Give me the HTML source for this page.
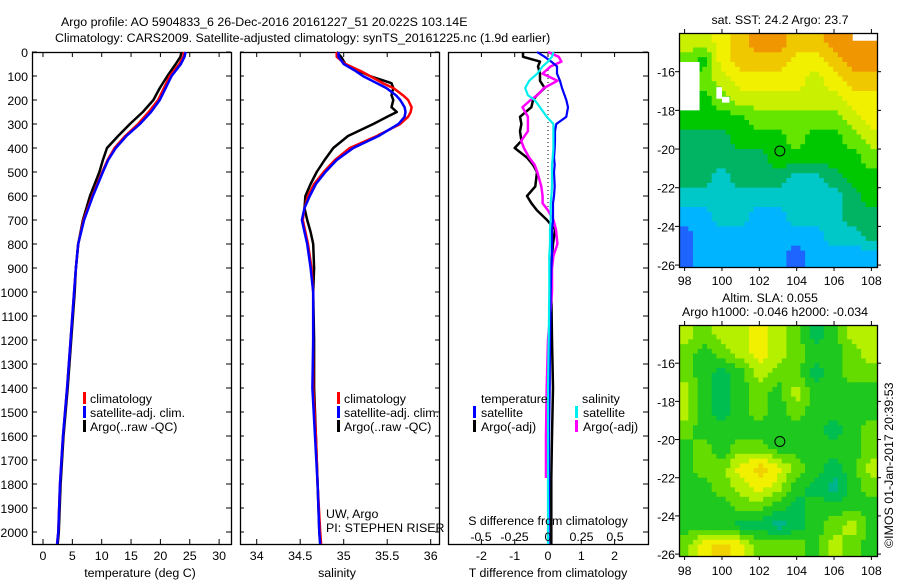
<!DOCTYPE html>
<html><head><meta charset="utf-8"><style>
html,body{margin:0;padding:0;background:#fff;}
svg text{font-family:"Liberation Sans",sans-serif;font-size:12.4px;fill:#000;}
</style></head><body>
<svg id="fig" width="900" height="580" viewBox="0 0 900 580" xmlns="http://www.w3.org/2000/svg">
<text x="61" y="26">Argo profile: AO 5904833_6 26-Dec-2016 20161227_51 20.022S 103.14E</text>
<text x="55" y="42">Climatology: CARS2009. Satellite-adjusted climatology: synTS_20161225.nc (1.9d earlier)</text>
<text x="780" y="24" text-anchor="middle">sat. SST: 24.2 Argo: 23.7</text>
<text x="770" y="302" text-anchor="middle">Altim. SLA: 0.055</text>
<text x="775" y="316" text-anchor="middle">Argo h1000: -0.046 h2000: -0.034</text>
<text transform="translate(893,548) rotate(-90)">©IMOS 01-Jan-2017 20:39:53</text>
</svg>
<script>
// ---- profile data ----
const depthT = [0,20,50,100,150,200,250,300,350,400,450,500,600,700,800,900,1000,1200,1400,1600,1800,2000,2050];
const tClim = [24.0,23.9,23.2,21.6,20.6,19.6,18.0,16.2,14.0,12.2,11.0,10.1,8.4,6.9,6.0,5.6,5.3,4.7,4.1,3.4,2.9,2.6,2.4];
const tSat = [24.3,24.1,23.5,21.9,20.9,19.9,18.4,16.5,14.2,12.4,11.1,10.2,8.5,7.0,6.0,5.6,5.3,4.7,4.1,3.4,2.9,2.6,2.4];
const tArgo = [23.6,23.4,22.6,21.2,19.9,18.8,17.0,14.8,12.8,10.9,10.2,9.6,8.0,6.8,6.0,5.6,5.4,4.8,4.2,3.5,3.0,2.7,2.5];
const depthS = [0,20,50,80,100,130,150,180,200,230,250,270,300,350,400,450,500,550,600,650,700,750,800,900,1000,1200,1400,1600,1800,2000,2050];
const sClim = [34.92,34.92,35.02,35.2,35.30,35.45,35.57,35.68,35.74,35.78,35.77,35.74,35.65,35.38,35.07,34.90,34.77,34.66,34.59,34.55,34.53,34.56,34.59,34.63,34.65,34.65,34.65,34.68,34.70,34.73,34.74];
const sSat = [34.94,34.94,35.00,35.14,35.22,35.38,35.49,35.60,35.65,35.70,35.71,35.70,35.63,35.40,35.11,34.92,34.79,34.68,34.61,34.55,34.52,34.55,34.58,34.62,34.65,34.65,34.64,34.67,34.70,34.72,34.73];
const sArgo = [34.92,34.97,35.02,35.18,35.30,35.55,35.57,35.55,35.57,35.55,35.61,35.50,35.34,35.05,34.88,34.78,34.69,34.62,34.56,34.55,34.58,34.62,34.65,34.66,34.65,34.66,34.66,34.68,34.70,34.72,34.73];
const depthD = [0,20,40,60,90,120,150,180,200,230,270,300,330,370,400,440,470,500,560,600,630,660,700,740,800,850,900,1000,1200,1400,1600,1775,2000,2050];
const dTArgo = [-0.75,-0.75,-0.24,-0.3,-0.24,-0.24,-0.1,-0.33,-0.45,-0.5,-0.84,-0.8,-0.84,-0.8,-1.0,-0.63,-0.45,-0.33,-0.38,-0.63,-0.5,-0.33,-0.03,0.21,0.15,0.12,0.1,0.1,0.12,0.15,0.12,0.1,0.1,0.1];
const dTSat = [-0.33,-0.1,0.1,0.27,0.27,0.36,0.42,0.5,0.55,0.6,0.55,0.25,0.21,0.21,0.2,0.18,0.2,0.18,0.2,0.18,0.15,0.15,0.15,0.12,0.12,0.12,0.1,0.08,0.06,0.05,0.03,0.03,0.02,0.02];
const dSSat = [0.04,0.03,0.0,-0.04,-0.08,-0.14,-0.17,-0.15,-0.1,-0.06,-0.01,0.04,0.04,0.04,0.04,0.035,0.03,0.03,0.03,0.025,0.02,0.02,0.02,0.015,0.015,0.01,0.01,0.01,0.005,0.0,0.0,0.0,0.0,0.0];
const dSArgo = [0.0,0.08,0.1,0.02,-0.04,0.07,-0.03,-0.08,-0.13,-0.19,-0.15,-0.15,-0.15,-0.2,-0.18,-0.14,-0.1,-0.08,-0.05,-0.04,-0.04,0.0,0.04,0.06,0.07,0.04,0.03,0.03,0.0,-0.01,-0.015,-0.015,null,null];
const depthTicks = [0,100,200,300,400,500,600,700,800,900,1000,1100,1200,1300,1400,1500,1600,1700,1800,1900,2000];
const tempTicks = [0,5,10,15,20,25,30];
const salTicks = [34,34.5,35,35.5,36];
const dTTicks = [-2,-1,0,1,2];
const dSTicks = [-0.5,-0.25,0,0.25,0.5];
// ---- map data (cell centres lat -14.5..-25.5, lon 98..108) ----
const mapLats = [-14.5,-15.5,-16.5,-17.5,-18.5,-19.5,-20.5,-21.5,-22.5,-23.5,-24.5,-25.5];
const mapLons = [98,99,100,101,102,103,104,105,106,107,108];
const sstGrid = [
[7,7,8,9,10,10,9,9,10,10,10],
[6,5,8,9,9,9,8,8,9,10,10],
[5,6,7,8,8,8,8,7,8,9,9],
[5,5,6,7,7,7,7,7,7,8,8],
[5,5,5,5,6,6,6,6,6,7,8],
[4,4,4,5,5,5,6,5,5,6,7],
[4,4,4,4,4,5,5,5,5,5,6],
[4,4,3,4,4,4,3,3,4,5,5],
[3,3,3,3,3,3,3,3,3,4,5],
[2,2,3,3,2,2,3,3,3,4,4],
[1,2,2,2,2,2,2,2,3,3,4],
[1,2,2,2,2,2,1,2,2,2,2]];
const sstMissing = [[97.7,98.8,-15.5,-18.0],[99.7,100.0,-16.8,-17.4],[107.0,108.3,-14.0,-14.4],[100.0,100.4,-17.3,-17.6]];
const slaGrid = [
[4,3,4,4,5,4,3,1,2,4,4],
[3,2,3,4,5,4,3,2,2,3,4],
[3,2,1,2,4,3,3,1,2,3,3],
[4,2,1,2,3,2,4,2,2,2,2],
[4,2,1,2,3,2,3,2,2,2,2],
[3,2,2,2,2,2,2,2,1,2,3],
[2,3,2,3,3,2,2,2,2,2,3],
[2,3,3,5,6,5,3,2,1,2,4],
[2,2,3,4,5,4,2,1,0,2,3],
[2,2,2,3,3,2,1,2,2,2,2],
[2,2,2,1,1,0,1,2,3,4,2],
[3,5,6,5,3,3,3,2,4,3,2]];
const argoLon = 103.1, argoLat = -20.1;
const latTicks = [-16,-18,-20,-22,-24,-26];
const lonTicks = [98,100,102,104,106,108];

const svg = document.getElementById('fig');
const NS = 'http://www.w3.org/2000/svg';
function mk(tag, attrs, parent){const e=document.createElementNS(NS,tag);for(const k in attrs)e.setAttribute(k,attrs[k]);(parent||svg).appendChild(e);return e;}
function txt(x,y,s,anchor,parent){const t=mk('text',{x:x,y:y,'text-anchor':anchor||'start'},parent);t.textContent=s;return t;}

const Y0=52, YS=0.24, YB=544;
const yD = d => Y0 + d*YS;
const xT = v => 43 + v*5.87;
const xS = v => 256.7 + (v-34)*87;
const xDT = v => 548 + v*33.3;
const xDS = v => 548 + v*134;

function frame(x0,x1,y0,y1,name){
  const r=mk('rect',{x:x0+0.5,y:y0+0.5,width:x1-x0,height:y1-y0,fill:'none',stroke:'#000','stroke-width':1.3});
  
  
}
function line(vals,depths,xf,color,w,name){
  let pts=[];
  for(let i=0;i<vals.length;i++){ if(vals[i]===null) continue; pts.push(xf(vals[i]).toFixed(1)+','+yD(depths[i]).toFixed(1)); }
  const p=mk('polyline',{points:pts.join(' '),fill:'none',stroke:color,'stroke-width':w,'stroke-linejoin':'round'});
  
  
}
function xticks(ticks,xf,yTop,yBot,labY,fmt){
  ticks.forEach(v=>{const x=xf(v);mk('line',{x1:x,x2:x,y1:yBot,y2:yBot-5,stroke:'#000'});mk('line',{x1:x,x2:x,y1:yTop,y2:yTop+5,stroke:'#000'});
    if(labY){const t=txt(x,labY,fmt?fmt(v):String(v),'middle');
      }});
}
function legendBar(x,y,color){mk('rect',{x:x,y:y-11,width:3,height:12,fill:color});}

// Panel 1 temperature
frame(32,231,Y0,YB,'temperature-panel');
depthTicks.forEach(d=>{const y=yD(d);mk('line',{x1:32,x2:37,y1:y,y2:y,stroke:'#000'});mk('line',{x1:226,x2:231,y1:y,y2:y,stroke:'#000'});
  const t=txt(28,y+5,String(d),'end');
  });
xticks(tempTicks,xT,Y0,YB,560);
line(tArgo,depthT,xT,'#000',2.5,'temp-argo-line');
line(tClim,depthT,xT,'#f00',2.5,'temp-climatology-line');
line(tSat,depthT,xT,'#00f',2.5,'temp-satellite-line');
{const t=txt(140,577,'temperature (deg C)','middle');
 }
[['climatology','#f00'],['satellite-adj. clim.','#00f'],['Argo(..raw -QC)','#000']].forEach((e,i)=>{
  legendBar(83,403+i*14,e[1]);const t=txt(90,403+i*14,e[0]);
  
  legendBar(337,403+i*14,e[1]);const t2=txt(344,403+i*14,e[0]);
  });

// Panel 2 salinity
frame(240,439,Y0,YB,'salinity-panel');
depthTicks.forEach(d=>{const y=yD(d);mk('line',{x1:240,x2:244,y1:y,y2:y,stroke:'#000'});mk('line',{x1:435,x2:439,y1:y,y2:y,stroke:'#000'});});
xticks(salTicks,xS,Y0,YB,560);
line(sArgo,depthS,xS,'#000',2.5,'salinity-argo-line');
line(sClim,depthS,xS,'#f00',2.5,'salinity-climatology-line');
line(sSat,depthS,xS,'#00f',2.5,'salinity-satellite-line');
{const t=txt(337,577,'salinity','middle');
 }
{const t=txt(326,518,'UW, Argo');
 
 const t2=txt(326,532,'PI: STEPHEN RISER');
 }

// Panel 3 differences
frame(448,648,Y0,YB,'difference-panel');
depthTicks.forEach(d=>{const y=yD(d);mk('line',{x1:643,x2:648,y1:y,y2:y,stroke:'#000'});});
xticks(dTTicks,xDT,Y0,YB,560);
mk('line',{x1:548,x2:548,y1:70,y2:207,stroke:'#000','stroke-dasharray':'1,3'});
line(dTArgo,depthD,xDT,'#000',2.5,'tdiff-argo-line');
line(dSArgo,depthD,xDS,'#f0f',2.5,'sdiff-argo-line');
line(dTSat,depthD,xDT,'#00f',2.2,'tdiff-satellite-line');
line(dSSat,depthD,xDS,'#0ee',2.2,'sdiff-satellite-line');
dSTicks.forEach(v=>{const t=txt(xDS(v),541,String(v),'middle');
  });
{const t=txt(548,525,'S difference from climatology','middle');
 
 const t2=txt(548,577,'T difference from climatology','middle');
 }
{let t=txt(481,403,'temperature');
 t=txt(582,403,'salinity');
 [['satellite','#00f',473],['Argo(-adj)','#000',473],['satellite','#0ee',575],['Argo(-adj)','#f0f',575]].forEach((e,i)=>{
   const y=417+(i%2)*14; legendBar(e[2],y,e[1]); const tt=txt(e[2]+8,y,e[0]);
   
   });}

// Maps
const sstPal=['#0000a0','#1e64ff','#00b4ff','#00c8c8','#00b464','#00c800','#64e600','#c8f000','#f0f000','#f0c800','#f09600','#d26400','#c80000'];
const slaPal=['#00b48c','#00be50','#1ec81e','#64dc00','#b4f000','#f0f000','#f0d200'];
function interp(grid,lat,lon){
  let r=(-14.5-lat), c=(lon-98);
  r=Math.max(0,Math.min(grid.length-1.001,r)); c=Math.max(0,Math.min(grid[0].length-1.001,c));
  const r0=Math.floor(r),c0=Math.floor(c),fr=r-r0,fc=c-c0;
  return grid[r0][c0]*(1-fr)*(1-fc)+grid[r0+1][c0]*fr*(1-fc)+grid[r0][c0+1]*(1-fr)*fc+grid[r0+1][c0+1]*fr*fc;
}
function drawMap(grid,pal,x0,x1,yTop,yBot,missing,name,labY){
  const lonMin=97.7,lonMax=108.3,latTop=-14.0,latBot=-26.1;
  const xL=v=>x0+(v-lonMin)/(lonMax-lonMin)*(x1-x0);
  const yL=v=>yTop+(latTop-v)/(latTop-latBot)*(yBot-yTop);
  const g=mk('g',{});
  
  
  const step=0.25;
  for(let lat=latTop;lat>latBot-0.001;lat-=step){
    for(let lon=lonMin;lon<lonMax;lon+=step){
      const v=interp(grid,lat-step/2,lon+step/2);
      const idx=Math.max(0,Math.min(pal.length-1,Math.round(v)));
      const xa=xL(lon),xb=Math.min(x1,xL(lon+step)),ya=yL(lat),yb=Math.min(yBot,yL(lat-step));
      if(yb<=ya) continue;
      mk('rect',{x:xa.toFixed(1),y:ya.toFixed(1),width:(xb-xa+0.6).toFixed(1),height:(yb-ya+0.6).toFixed(1),fill:pal[idx]},g);
    }
  }
  (missing||[]).forEach(m=>{mk('rect',{x:xL(m[0]),y:yL(m[2]),width:xL(m[1])-xL(m[0]),height:yL(m[3])-yL(m[2]),fill:'#fff'},g);});
  frame(x0,x1,yTop,yBot,name+'-frame');
  latTicks.forEach(v=>{const y=yL(v);mk('line',{x1:x0,x2:x0-4,y1:y,y2:y,stroke:'#000'});mk('line',{x1:x1,x2:x1+4,y1:y,y2:y,stroke:'#000'});
    const t=txt(x0-4,y+5,String(v),'end');
    });
  lonTicks.forEach(v=>{const x=xL(v);mk('line',{x1:x,x2:x,y1:yBot,y2:yBot+4,stroke:'#000'});mk('line',{x1:x,x2:x,y1:yTop,y2:yTop-4,stroke:'#000'});
    const t=txt(x,labY,String(v),'middle');
    });
  const c=mk('circle',{cx:xL(argoLon),cy:yL(argoLat),r:5,fill:'none',stroke:'#000','stroke-width':1});
  
  
}
drawMap(sstGrid,sstPal,679,877,33,267,sstMissing,'sst-map',285);
drawMap(slaGrid,slaPal,679,877,325,556,[],'sla-map',575);
</script>
</body></html>
